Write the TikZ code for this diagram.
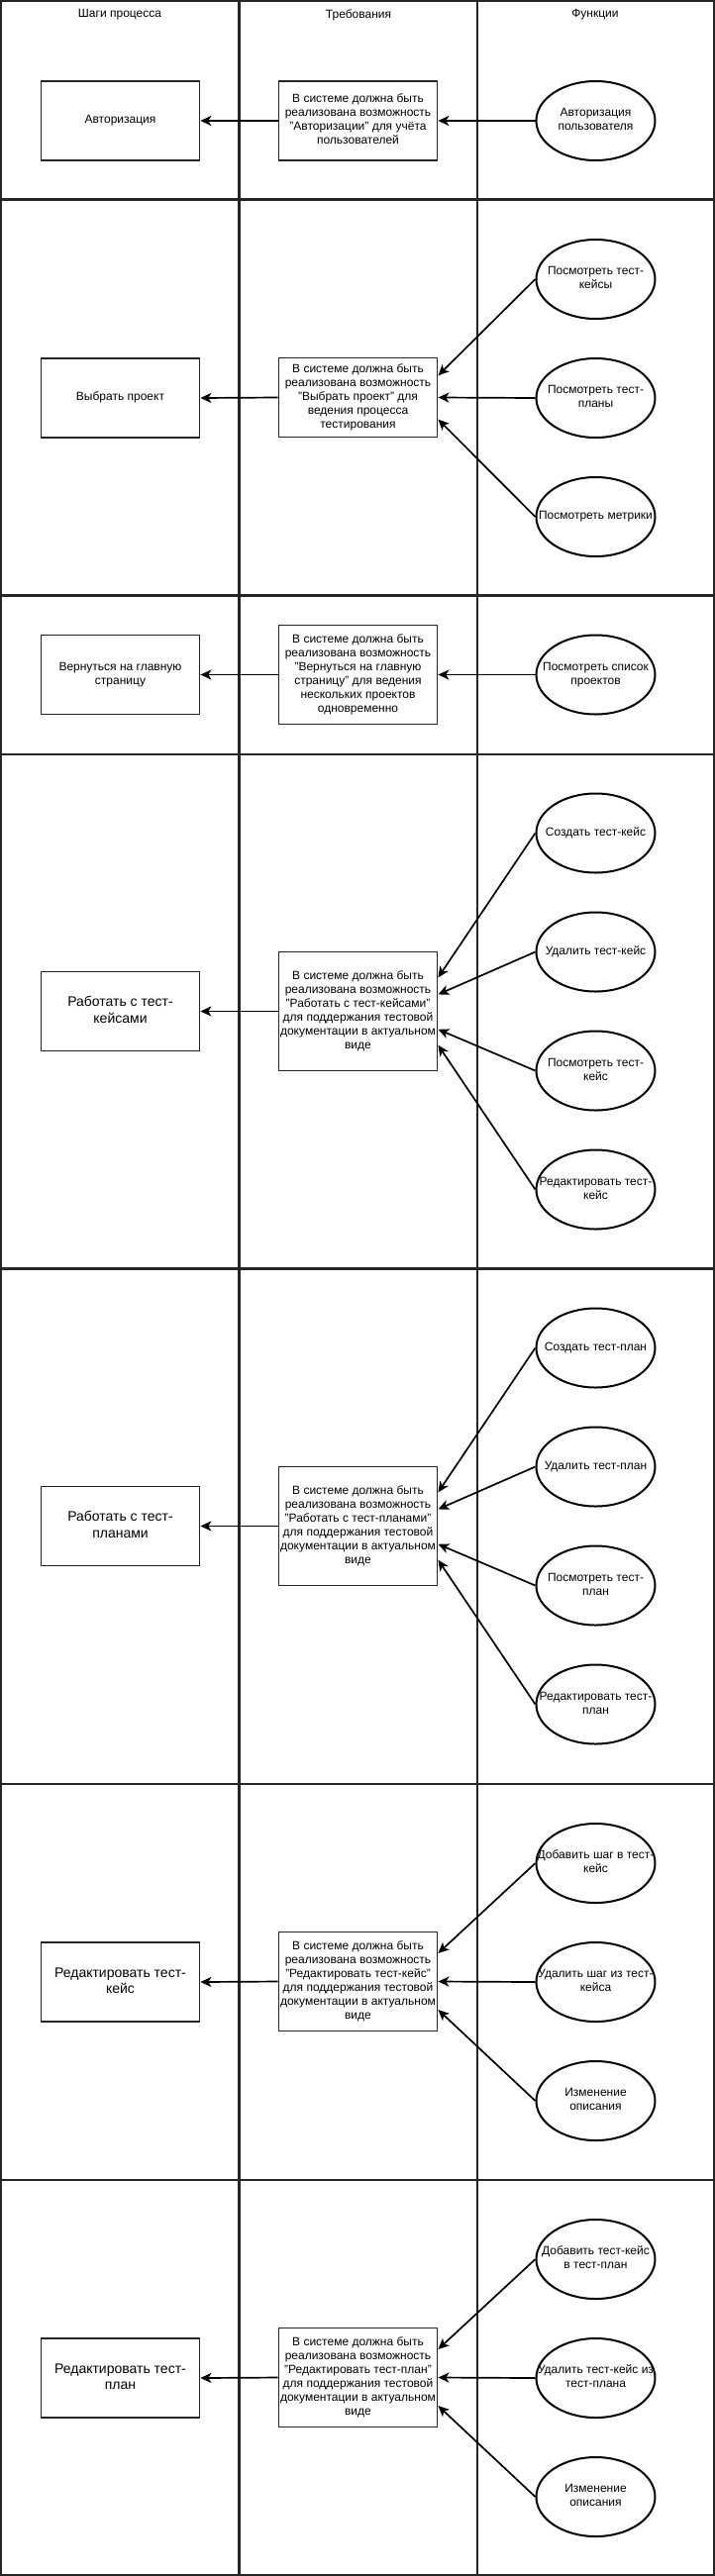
\documentclass[tikz,border=0pt]{standalone}
\usepackage{fontspec}
\setmainfont{Liberation Sans}
\usetikzlibrary{shapes.geometric,arrows.meta,calc}
\newcommand{\lns}[1]{\makebox[0pt]{\begin{tabular}{@{}c@{}}#1\end{tabular}}}
\begin{document}
\begin{tikzpicture}[x=1pt,y=-1pt,
  lane/.style={line width=2.2pt, draw=black!85},
  stepbox/.style={draw=black!85, line width=1.8pt, rectangle, minimum width=160pt, minimum height=80pt, inner sep=0pt, font=\fontsize{12}{14}\selectfont},
  bigtext/.style={font=\fontsize{14}{16.5}\selectfont},
  fn/.style={draw=black, ellipse, line width=2pt, minimum width=120pt, minimum height=80pt, inner sep=0pt, font=\fontsize{12}{14}\selectfont},
  arr/.style={line width=1.7pt, -{Stealth[length=11pt,width=10pt,inset=3pt]}},
  head/.style={font=\fontsize{12}{14}\selectfont, inner sep=0pt}
]
\useasboundingbox (0,0) rectangle (722,2602);
\fill[white] (0,0) rectangle (722,2602);
% lanes
\draw[lane] (1,1) rectangle (721,2601);
\draw[lane] (241.5,1) -- (241.5,2601);
\draw[lane] (482,1) -- (482,2601);
\foreach \yy in {201.5,601.5,762,1281.5,1802,2202}{\draw[lane] (1,\yy) -- (721,\yy);}
% headers
\node[head] (h1) at (121,15) {Шаги процесса};
\node[head] (h2) at (362,15) {Требования};
\node[head] (h3) at (601,15) {Функции};

% Row 1
\node[stepbox] (s1) at (121.5,122) {\lns{Авторизация}};
\node[stepbox] (m1) at (361.5,122) {\lns{В системе должна быть\\реализована возможность\\"Авторизации" для учёта\\пользователей}};
\node[fn] (f11) at (601.5,122) {\lns{Авторизация\\пользователя}};
\draw[arr] (f11.west) -- (m1.east);
\draw[arr] (m1.west) -- (s1.east);

% Row 2
\node[stepbox] (s2) at (121.5,402) {\lns{Выбрать проект}};
\node[stepbox] (m2) at (361.5,401.5) {\lns{В системе должна быть\\реализована возможность\\"Выбрать проект" для\\ведения процесса\\тестирования}};
\node[fn] (f21) at (601.5,282) {\lns{Посмотреть тест-\\кейсы}};
\node[fn] (f22) at (601.5,402) {\lns{Посмотреть тест-\\планы}};
\node[fn] (f23) at (601.5,522) {\lns{Посмотреть метрики}};
\draw[arr] (f21.west) -- ($(m2.north east)!0.23!(m2.south east)$);
\draw[arr] (f22.west) -- ($(m2.north east)!0.5!(m2.south east)$);
\draw[arr] (f23.west) -- ($(m2.north east)!0.77!(m2.south east)$);
\draw[arr] (m2.west) -- (s2.east);

% Row 3
\node[stepbox] (s3) at (121.5,681.5) {\lns{Вернуться на главную\\страницу}};
\node[stepbox, minimum height=100pt] (m3) at (361.5,681.5) {\lns{В системе должна быть\\реализована возможность\\"Вернуться на главную\\страницу" для ведения\\нескольких проектов\\одновременно}};
\node[fn] (f31) at (601.5,681.5) {\lns{Посмотреть список\\проектов}};
\draw[arr] (f31.west) -- (m3.east);
\draw[arr] (m3.west) -- (s3.east);

% Row 4
\node[stepbox, bigtext] (s4) at (121.5,1021.5) {\lns{Работать с тест-\\кейсами}};
\node[stepbox, minimum height=120pt] (m4) at (361.5,1021.5) {\lns{В системе должна быть\\реализована возможность\\"Работать с тест-кейсами"\\для поддержания тестовой\\документации в актуальном\\виде}};
\node[fn] (f41) at (601.5,841.5) {\lns{Создать тест-кейс}};
\node[fn] (f42) at (601.5,961.5) {\lns{Удалить тест-кейс}};
\node[fn] (f43) at (601.5,1081.5) {\lns{Посмотреть тест-\\кейс}};
\node[fn] (f44) at (601.5,1201.5) {\lns{Редактировать тест-\\кейс}};
\draw[arr] (f41.west) -- ($(m4.north east)!0.22!(m4.south east)$);
\draw[arr] (f42.west) -- ($(m4.north east)!0.36!(m4.south east)$);
\draw[arr] (f43.west) -- ($(m4.north east)!0.65!(m4.south east)$);
\draw[arr] (f44.west) -- ($(m4.north east)!0.78!(m4.south east)$);
\draw[arr] (m4.west) -- (s4.east);

% Row 5
\node[stepbox, bigtext] (s5) at (121.5,1541.5) {\lns{Работать с тест-\\планами}};
\node[stepbox, minimum height=120pt] (m5) at (361.5,1541.5) {\lns{В системе должна быть\\реализована возможность\\"Работать с тест-планами"\\для поддержания тестовой\\документации в актуальном\\виде}};
\node[fn] (f51) at (601.5,1361.5) {\lns{Создать тест-план}};
\node[fn] (f52) at (601.5,1481.5) {\lns{Удалить тест-план}};
\node[fn] (f53) at (601.5,1601.5) {\lns{Посмотреть тест-\\план}};
\node[fn] (f54) at (601.5,1721.5) {\lns{Редактировать тест-\\план}};
\draw[arr] (f51.west) -- ($(m5.north east)!0.22!(m5.south east)$);
\draw[arr] (f52.west) -- ($(m5.north east)!0.36!(m5.south east)$);
\draw[arr] (f53.west) -- ($(m5.north east)!0.65!(m5.south east)$);
\draw[arr] (f54.west) -- ($(m5.north east)!0.78!(m5.south east)$);
\draw[arr] (m5.west) -- (s5.east);

% Row 6
\node[stepbox, bigtext] (s6) at (121.5,2002) {\lns{Редактировать тест-\\кейс}};
\node[stepbox, minimum height=100pt] (m6) at (361.5,2001.5) {\lns{В системе должна быть\\реализована возможность\\"Редактировать тест-кейс"\\для поддержания тестовой\\документации в актуальном\\виде}};
\node[fn] (f61) at (601.5,1882) {\lns{Добавить шаг в тест-\\кейс}};
\node[fn] (f62) at (601.5,2002) {\lns{Удалить шаг из тест-\\кейса}};
\node[fn] (f63) at (601.5,2122) {\lns{Изменение\\описания}};
\draw[arr] (f61.west) -- ($(m6.north east)!0.22!(m6.south east)$);
\draw[arr] (f62.west) -- ($(m6.north east)!0.5!(m6.south east)$);
\draw[arr] (f63.west) -- ($(m6.north east)!0.78!(m6.south east)$);
\draw[arr] (m6.west) -- (s6.east);

% Row 7
\node[stepbox, bigtext] (s7) at (121.5,2402) {\lns{Редактировать тест-\\план}};
\node[stepbox, minimum height=100pt] (m7) at (361.5,2401.5) {\lns{В системе должна быть\\реализована возможность\\"Редактировать тест-план"\\для поддержания тестовой\\документации в актуальном\\виде}};
\node[fn] (f71) at (601.5,2282) {\lns{Добавить тест-кейс\\в тест-план}};
\node[fn] (f72) at (601.5,2402) {\lns{Удалить тест-кейс из\\тест-плана}};
\node[fn] (f73) at (601.5,2522) {\lns{Изменение\\описания}};
\draw[arr] (f71.west) -- ($(m7.north east)!0.22!(m7.south east)$);
\draw[arr] (f72.west) -- ($(m7.north east)!0.5!(m7.south east)$);
\draw[arr] (f73.west) -- ($(m7.north east)!0.78!(m7.south east)$);
\draw[arr] (m7.west) -- (s7.east);
\end{tikzpicture}
\end{document}
